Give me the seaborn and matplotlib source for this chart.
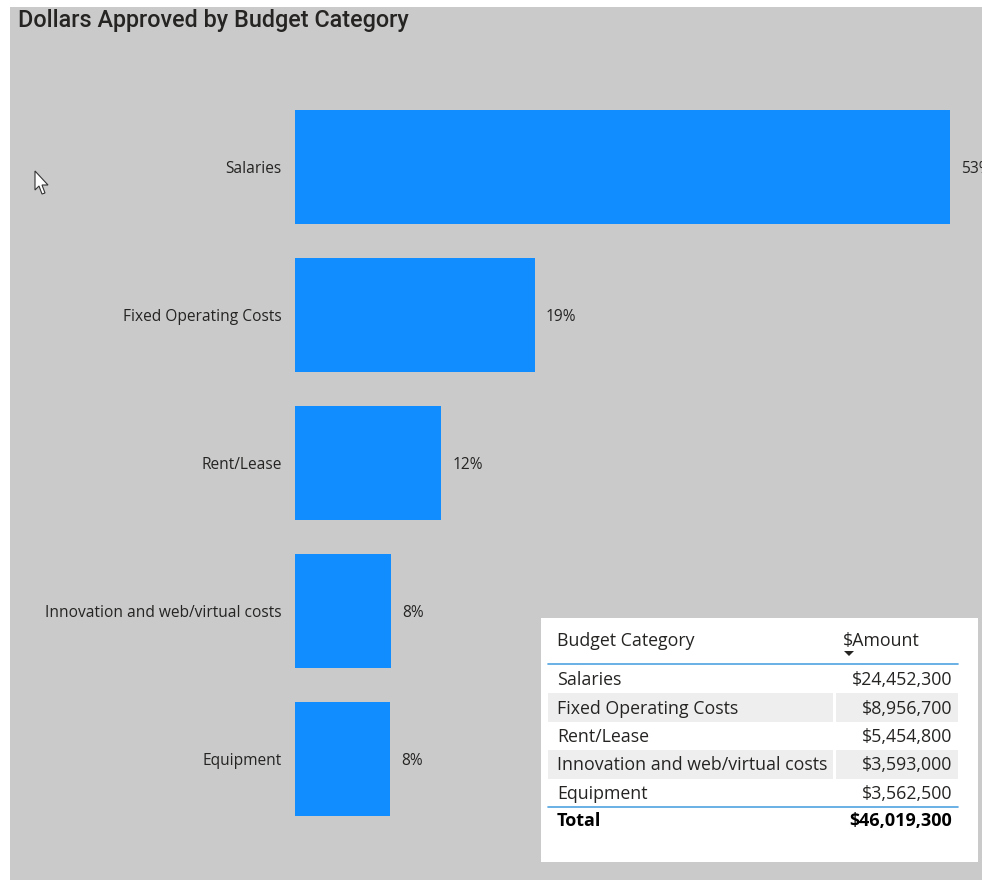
import numpy as np
import pandas as pd
import seaborn as sns
import matplotlib.pyplot as plt
from matplotlib.patches import Rectangle, Polygon

# Budget data
categories = ['Salaries', 'Fixed Operating Costs', 'Rent/Lease',
              'Innovation and web/virtual costs', 'Equipment']
amounts = [24452300, 8956700, 5454800, 3593000, 3562500]

W, H = 982, 880
BLUE = '#118DFF'
TXT = '#252423'
BG = '#CACACA'

df = pd.DataFrame({'Category': categories, 'Amount': amounts})
total = sum(amounts)
df['Pct'] = df['Amount'] / total * 100

sns.set_theme(style='white')
plt.rcParams['font.family'] = ['Open Sans', 'DejaVu Sans']


def fx(px):
    return px / W


def fy(py):
    return 1 - py / H


fig = plt.figure(figsize=(W / 100, H / 100), dpi=100, facecolor='white')

# grey report panel (behind the axes)
fig.patches.append(Rectangle((fx(10), 0), fx(W - 10), fy(7), transform=fig.transFigure,
                             facecolor=BG, edgecolor='none', zorder=-5))

fig.text(fx(18), fy(20), 'Dollars Approved by Budget Category', fontsize=16.8,
         color=TXT, va='center', ha='left', fontweight='medium',
         family=['Roboto', 'DejaVu Sans'])

# bar chart
ax = fig.add_axes([fx(295), fy(833), fx(W - 295), fy(93) - fy(833)])
ax.set_facecolor('none')
sns.barplot(data=df, x='Amount', y='Category', orient='h', color=BLUE,
            saturation=1, width=0.77, linewidth=0, ax=ax)
ax.set_xlim(0, amounts[0] * (W - 295) / 655)
ax.set_ylim(4.5, -0.5)
for s in ax.spines.values():
    s.set_visible(False)
ax.set_xticks([])
ax.set_xlabel('')
ax.set_ylabel('')
ax.tick_params(axis='y', length=0, pad=9.5, labelsize=11.2, labelcolor=TXT)
for lbl in ax.get_yticklabels():
    lbl.set_va('center_baseline')
pct_labels = ax.bar_label(ax.containers[0], labels=[f'{p:.0f}%' for p in df['Pct']],
                          padding=8, fontsize=11.2, color=TXT, clip_on=False)
for t in pct_labels:
    t.set_va('center_baseline')

# table visual
fig.patches.append(Rectangle((fx(541), fy(862)), fx(978 - 541), fy(618) - fy(862),
                             transform=fig.transFigure, facecolor='white',
                             edgecolor='none', zorder=1))
tfs = 12.8
fig.text(fx(557), fy(641), 'Budget Category', fontsize=tfs, color=TXT, va='center')
fig.text(fx(920), fy(641), '$Amount', fontsize=tfs, color=TXT, va='center', ha='right')
fig.patches.append(Polygon([[fx(844), fy(651)], [fx(854), fy(651)], [fx(849), fy(656)]],
                           closed=True, transform=fig.transFigure,
                           facecolor=TXT, edgecolor='none', zorder=2))
row_h = 28.4
row_y0 = 665
for i, (cat, amt) in enumerate(zip(categories, amounts)):
    top = row_y0 + i * row_h
    mid = top + row_h / 2 + 1
    if i % 2 == 1:
        fig.patches.append(Rectangle((fx(548), fy(top + row_h)), fx(833 - 548), fy(top) - fy(top + row_h),
                                     transform=fig.transFigure, facecolor='#EEEEEE',
                                     edgecolor='none', zorder=2))
        fig.patches.append(Rectangle((fx(836), fy(top + row_h)), fx(958 - 836), fy(top) - fy(top + row_h),
                                     transform=fig.transFigure, facecolor='#EEEEEE',
                                     edgecolor='none', zorder=2))
    fig.text(fx(557), fy(mid), cat, fontsize=tfs, color=TXT, va='center', zorder=3)
    fig.text(fx(952), fy(mid), f'${amt:,.0f}', fontsize=tfs, color=TXT, va='center',
             ha='right', zorder=3)

line_kw = dict(transform=fig.transFigure, color='#4FA3E0', lw=1.2, zorder=3)
fig.add_artist(plt.Line2D([fx(548), fx(958)], [fy(664), fy(664)], **line_kw))
fig.add_artist(plt.Line2D([fx(548), fx(958)], [fy(807), fy(807)], **line_kw))
fig.text(fx(557), fy(821), 'Total', fontsize=13, color='black', va='center',
         fontweight='bold', zorder=3)
fig.text(fx(952), fy(821), f'${total:,.0f}', fontsize=13, color='black', va='center',
         ha='right', fontweight='bold', zorder=3)

# mouse pointer left in the screenshot
cursor = [[35, 171], [35, 190], [39, 186], [42, 194], [45, 193], [42, 185], [48, 185]]
fig.patches.append(Polygon([[fx(x), fy(y)] for x, y in cursor], closed=True,
                           transform=fig.transFigure, facecolor='white',
                           edgecolor='#333333', lw=0.8, zorder=3))

fig.savefig('out.png', dpi=100, facecolor='white')
